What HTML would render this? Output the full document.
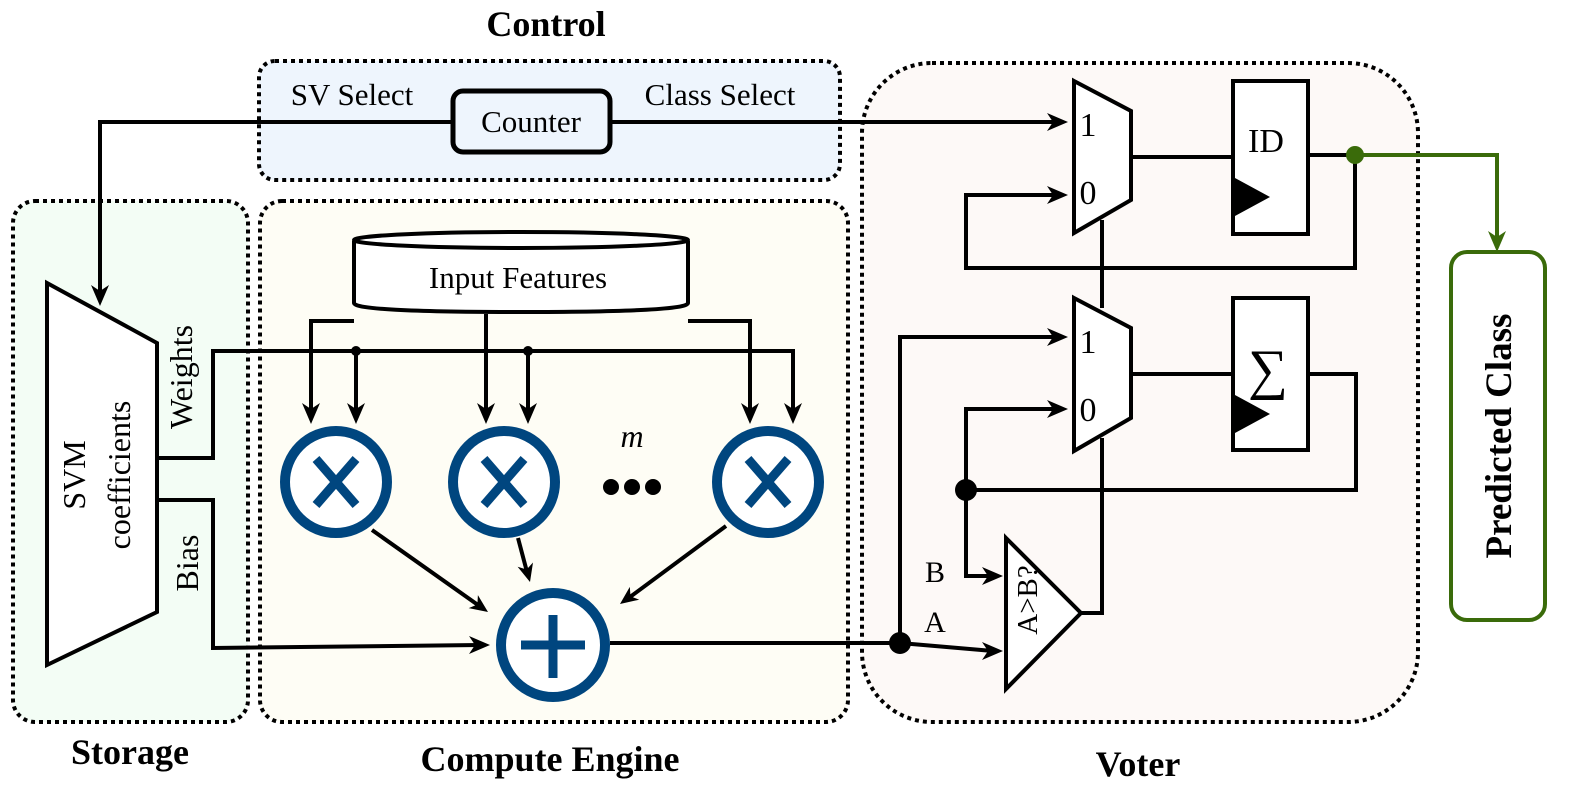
<!DOCTYPE html>
<html><head><meta charset="utf-8"><style>
html,body{margin:0;padding:0;background:#fff}
svg{display:block}
text{font-family:"Liberation Serif","Times New Roman",serif}
</style></head><body>
<svg width="1575" height="790" viewBox="0 0 1575 790" xmlns="http://www.w3.org/2000/svg">
<g stroke="#000" stroke-width="4" stroke-dasharray="4 4">
<rect x="259" y="61" width="581" height="119" rx="16" fill="#eef5fd"/>
<rect x="13" y="201" width="235" height="521" rx="22" fill="#f3fdf5"/>
<rect x="260" y="201" width="588" height="521" rx="22" fill="#fefdf5"/>
<rect x="862" y="63" width="556" height="659" rx="70" fill="#fdf9f7"/>
</g>
<text x="546" y="36" font-size="36" font-weight="bold" text-anchor="middle">Control</text>
<text x="130" y="764" font-size="36" font-weight="bold" text-anchor="middle">Storage</text>
<text x="550" y="771" font-size="36" font-weight="bold" text-anchor="middle">Compute Engine</text>
<text x="1138" y="776" font-size="36" font-weight="bold" text-anchor="middle">Voter</text>
<text x="352" y="105" font-size="31" text-anchor="middle">SV Select</text>
<text x="720" y="105" font-size="31" text-anchor="middle">Class Select</text>
<g fill="none" stroke="#000" stroke-width="4">
<polyline points="452,122 100,122 100,296"/>
<polyline points="610,122 1058,122"/>
<polyline points="157,458 213,458 213,351 793,351 793,414"/>
<line x1="356" y1="351" x2="356" y2="414"/>
<line x1="528" y1="351" x2="528" y2="414"/>
<polyline points="354,321 311,321 311,414"/>
<polyline points="688,321 750,321 750,414"/>
<line x1="486" y1="314" x2="486" y2="414"/>
<polyline points="157,500 213,500 213,648 480,645"/>
<line x1="372" y1="530" x2="478" y2="605"/>
<line x1="518" y1="538" x2="527" y2="572"/>
<line x1="726" y1="526" x2="630" y2="597"/>
<polyline points="610,643 900,643"/>
<polyline points="900,643 993,651"/>
<polyline points="900,643 900,337 1058,337"/>
<line x1="1131" y1="157" x2="1233" y2="157"/>
<polyline points="1308,155 1355,155 1355,268 966,268 966,195 1058,195"/>
<line x1="1102" y1="220" x2="1102" y2="308"/>
<line x1="1131" y1="374" x2="1233" y2="374"/>
<polyline points="1308,374 1356,374 1356,490 966,490"/>
<polyline points="966,490 966,409 1058,409"/>
<polyline points="966,490 966,576 993,576"/>
<polyline points="1081,613 1102,613 1102,438"/>
</g>
<g fill="#000">
<polygon points="91,285 100,306 109,285 100,291"/>
<polygon points="347,403 356,424 365,403 356,409"/>
<polygon points="519,403 528,424 537,403 528,409"/>
<polygon points="784,403 793,424 802,403 793,409"/>
<polygon points="302,403 311,424 320,403 311,409"/>
<polygon points="741,403 750,424 759,403 750,409"/>
<polygon points="477,403 486,424 495,403 486,409"/>
<polygon points="1047,113 1068,122 1047,131 1053,122"/>
<polygon points="469,636 490,645 469,654 475,645"/>
<polygon points="1047,328 1068,337 1047,346 1053,337"/>
<polygon points="1047,186 1068,195 1047,204 1053,195"/>
<polygon points="1047,400 1068,409 1047,418 1053,409"/>
<polygon points="982,567 1003,576 982,585 988,576"/>
<polygon points="982,642 1003,651 982,660 988,651"/>
<polygon points="468.7,608.1 488,612 477.9,595.1 477.4,604.5"/>
<polygon points="517.6,566.7 530,582 533,562.5 526.6,569.5"/>
<polygon points="629.8,586.9 620,604 639.2,599.7 630.5,596.3"/>
</g>
<circle cx="356" cy="351" r="5"/><circle cx="528" cy="351" r="5"/>
<circle cx="900" cy="643" r="11"/><circle cx="966" cy="490" r="11"/>
<polyline points="1355,155 1497,155 1497,238" fill="none" stroke="#3a6b0a" stroke-width="4"/>
<polygon points="1488,231 1497,252 1506,231 1497,237" fill="#3a6b0a"/>
<circle cx="1355" cy="155" r="9" fill="#3a6b0a"/>
<rect x="1451" y="252" width="94" height="368" rx="16" fill="#fff" stroke="#3a6b0a" stroke-width="4"/>
<text transform="translate(1511,436) rotate(-90)" font-size="37" font-weight="bold" text-anchor="middle">Predicted Class</text>
<rect x="453" y="91" width="157" height="61" rx="10" fill="#eef5fd" stroke="#000" stroke-width="5"/>
<text x="531" y="132" font-size="31" text-anchor="middle">Counter</text>
<polygon points="47,283 157,343 157,612 47,665" fill="#fff" stroke="#000" stroke-width="4"/>
<text transform="translate(85,475) rotate(-90)" font-size="32" text-anchor="middle">SVM</text>
<text transform="translate(130,475) rotate(-90)" font-size="32" text-anchor="middle">coefficients</text>
<text transform="translate(192,377) rotate(-90)" font-size="32" text-anchor="middle">Weights</text>
<text transform="translate(198,563) rotate(-90)" font-size="32" text-anchor="middle">Bias</text>
<path d="M354,241 L354,303 Q354,312 521,312 Q688,312 688,303 L688,241" fill="#fff" stroke="#000" stroke-width="4"/>
<ellipse cx="521" cy="240" rx="167" ry="8" fill="#fff" stroke="#000" stroke-width="4"/>
<text x="518" y="288" font-size="31" text-anchor="middle">Input Features</text>
<g fill="#fff" stroke="#00467f" stroke-width="10">
<circle cx="336" cy="482" r="51"/><circle cx="504" cy="482" r="51"/><circle cx="768" cy="482" r="51"/>
<circle cx="553" cy="645" r="52"/>
</g>
<g stroke="#00467f" stroke-width="9">
<path d="M316,459 L356,505 M356,459 L316,505"/>
<path d="M484,459 L524,505 M524,459 L484,505"/>
<path d="M748,459 L788,505 M788,459 L748,505"/>
<path d="M553,615 L553,678 M521,645 L585,645"/>
</g>
<text x="632" y="447" font-size="32" font-style="italic" text-anchor="middle">m</text>
<circle cx="611" cy="487" r="8"/><circle cx="632" cy="487" r="8"/><circle cx="653" cy="487" r="8"/>
<g fill="#fff" stroke="#000" stroke-width="4">
<polygon points="1074,81 1131,111 1131,200 1074,233"/>
<polygon points="1074,298 1131,328 1131,418 1074,451"/>
<rect x="1233" y="81" width="75" height="153"/>
<rect x="1233" y="298" width="75" height="152"/>
<polygon points="1006,538 1081,613 1006,689"/>
</g>
<polygon points="1235,178 1270,197 1235,216"/>
<polygon points="1235,395 1270,414 1235,433"/>
<text x="1088" y="136" font-size="34" text-anchor="middle">1</text>
<text x="1088" y="204" font-size="34" text-anchor="middle">0</text>
<text x="1088" y="353" font-size="34" text-anchor="middle">1</text>
<text x="1088" y="421" font-size="34" text-anchor="middle">0</text>
<text x="1266" y="152" font-size="34" text-anchor="middle">ID</text>
<text x="1268" y="388" font-size="56" text-anchor="middle">∑</text>
<text x="935" y="582" font-size="30" text-anchor="middle">B</text>
<text x="935" y="632" font-size="30" text-anchor="middle">A</text>
<text transform="translate(1037,600) rotate(-90)" font-size="29" text-anchor="middle">A&gt;B?</text>
</svg>
</body></html>
